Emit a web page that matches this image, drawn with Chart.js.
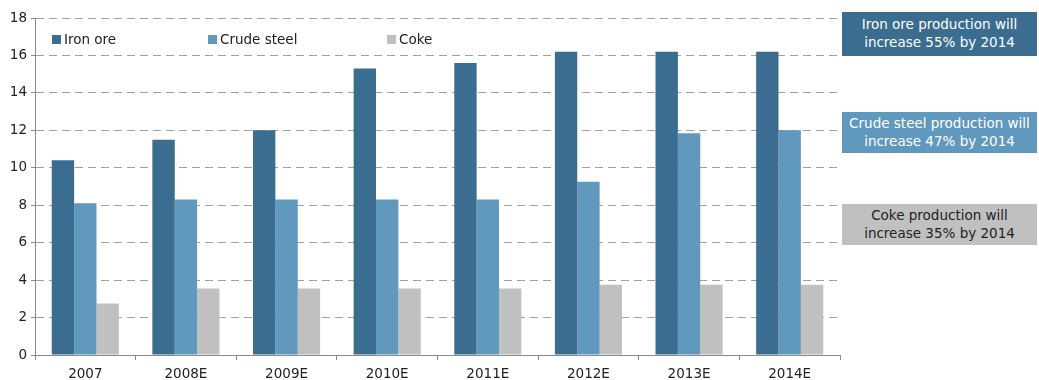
<!DOCTYPE html>
<html>
<head>
<meta charset="utf-8">
<script src="https://cdn.jsdelivr.net/npm/chart.js@4/dist/chart.umd.min.js"></script>
<style>
  html, body { margin: 0; padding: 0; background: #fff; }
  body { width: 1039px; height: 380px; position: relative; overflow: hidden; font-family: "DejaVu Sans", Verdana, sans-serif; }
  #wrap { position: absolute; left: 0; top: 0; width: 842px; height: 380px; }
  .leg { position: absolute; top: 31px; font-size: 13.5px; color: #222; white-space: nowrap; }
  .leg i { display: inline-block; width: 9px; height: 9px; margin-right: 3px; }
  .note { position: absolute; left: 842px; width: 195px; font-size: 13.5px; line-height: 18px; text-align: center; padding-top: 3px; box-sizing: border-box; white-space: nowrap; }
</style>
</head>
<body>
<div id="wrap"><canvas id="chartProd"></canvas></div>
<div id="legend"></div>
<div class="note" style="top:12px;height:44px;background:#3a6d90;color:#fff;">Iron ore production will<br>increase 55% by 2014</div>
<div class="note" style="top:112px;height:41px;background:#6099bd;color:#fff;padding-top:2px;">Crude steel production will<br>increase 47% by 2014</div>
<div class="note" style="top:204px;height:41px;background:#c0c0c0;color:#222;padding-top:2px;">Coke production will<br>increase 35% by 2014</div>
<script>
'use strict';

const lata = ['2007', '2008E', '2009E', '2010E', '2011E', '2012E', '2013E', '2014E'];
const rudaZelaza = [10.4, 11.5, 12.0, 15.3, 15.6, 16.2, 16.2, 16.2];
const stalSurowa = [8.1, 8.3, 8.3, 8.3, 8.3, 9.25, 11.85, 12.0];
const koks = [2.75, 3.55, 3.55, 3.55, 3.55, 3.75, 3.75, 3.75];
const nazwySerii = ['Iron ore', 'Crude steel', 'Coke'];
const koloryserii = ['#3a6d90', '#6099bd', '#c0c0c0'];
const yTicks = [0, 2, 4, 6, 8, 10, 12, 14, 16, 18];

// legenda w obszarze wykresu
const legendX = [52, 208, 387];
const legEl = document.getElementById('legend');
nazwySerii.forEach((n, i) => {
    const d = document.createElement('div');
    d.className = 'leg';
    d.style.left = legendX[i] + 'px';
    d.innerHTML = `<i style="background:${koloryserii[i]}"></i>${n}`;
    legEl.appendChild(d);
});

const ctx = document.getElementById('chartProd');
new Chart(ctx, {
    type: 'bar',
    data: {
        labels: lata,
        datasets: [rudaZelaza, stalSurowa, koks].map((dane, i) => ({
            label: nazwySerii[i],
            data: dane,
            backgroundColor: koloryserii[i],
            categoryPercentage: 0.667,
            barPercentage: 1.0
        }))
    },
    options: {
        responsive: true,
        maintainAspectRatio: false,
        animation: false,
        layout: { padding: { top: 18, right: 2 } },
        plugins: { legend: { display: false }, tooltip: { enabled: false } },
        scales: {
            x: {
                grid: { drawOnChartArea: false, drawTicks: true, tickLength: 5, color: '#8a8a8a', tickColor: '#8a8a8a' },
                border: { color: '#8a8a8a', width: 1 },
                ticks: { color: '#222', font: { family: 'DejaVu Sans', size: 13.5 }, padding: 6, maxRotation: 0 },
                afterFit: s => { s.height = 25; }
            },
            y: {
                min: 0, max: 18,
                afterBuildTicks: s => { s.ticks = yTicks.map(v => ({ value: v })); },
                grid: { color: '#a0a0a0', tickLength: 4, tickColor: '#8a8a8a', tickBorderDash: [] },
                border: { color: '#8a8a8a', width: 1, dash: [8, 5] },
                ticks: { color: '#222', font: { family: 'DejaVu Sans', size: 13.5 }, padding: 4 },
                afterFit: s => { s.width = 35; }
            }
        }
    }
});
</script>
</body>
</html>
